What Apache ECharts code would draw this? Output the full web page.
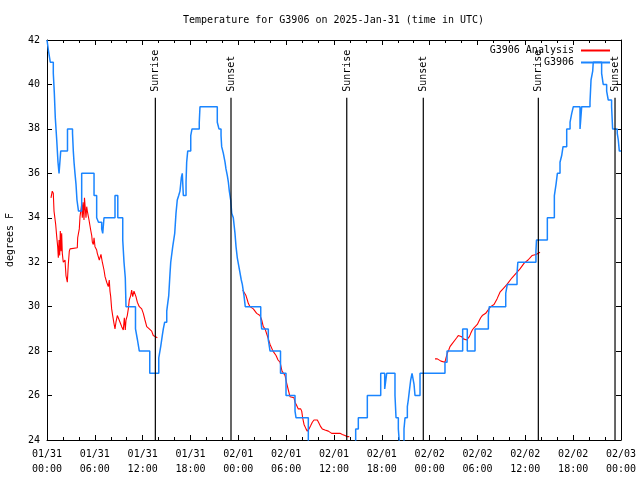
<!DOCTYPE html>
<html>
<head>
<meta charset="utf-8">
<script src="https://cdn.jsdelivr.net/npm/echarts@6/dist/echarts.min.js"></script>
<style>html,body{margin:0;padding:0;background:#fff}#c{width:640px;height:480px}</style>
</head>
<body>
<div id="c"></div>
<script>
// hours since 2025-01-31 00:00 UTC
const tickLabels = ['01/31\n00:00','01/31\n06:00','01/31\n12:00','01/31\n18:00','02/01\n00:00','02/01\n06:00','02/01\n12:00','02/01\n18:00','02/02\n00:00','02/02\n06:00','02/02\n12:00','02/02\n18:00','02/03\n00:00'];

// G3906 observations (stepped)
const obsHours = [0.00,0.19,0.41,0.79,0.92,1.04,1.22,1.38,1.51,1.72,2.57,3.20,3.30,3.39,3.51,3.64,3.76,3.95,4.35,5.90,6.23,6.46,6.86,6.99,7.15,8.53,8.88,9.50,9.66,9.82,9.91,11.10,11.35,11.58,12.89,14.02,14.26,14.46,14.59,14.76,15.02,15.09,15.27,15.43,15.52,15.77,16.02,16.18,16.34,16.52,16.68,16.85,16.97,17.10,17.44,17.52,17.65,18.03,18.19,19.10,19.19,21.36,21.57,21.83,21.91,22.12,22.33,22.45,22.62,22.75,22.87,23.04,23.17,23.37,23.58,23.71,23.87,24.12,24.37,24.50,24.71,24.87,26.81,26.93,27.76,27.98,29.29,29.98,31.11,31.24,32.78,38.72,39.05,40.18,41.86,42.36,42.61,43.65,43.78,44.07,44.28,44.78,44.91,45.20,45.32,45.45,45.62,45.79,46.04,46.16,46.79,49.92,50.18,52.14,52.72,53.69,55.36,55.48,57.54,57.74,58.96,59.06,61.33,61.40,62.76,63.64,63.85,64.02,64.35,64.56,64.73,65.19,65.61,65.82,66.02,66.86,67.07,68.11,68.24,68.45,68.52,69.57,69.77,70.20,70.40,70.82,70.95,71.53,71.66,71.79,72.00];
const obsTemps = [42,41.5,41,40.5,39.6,38.5,37.5,36.5,36,37,38,37.8,37,36.5,36,35.5,34.8,34.3,36,35,34,33.8,33.5,33.3,34,35,34,33,32,31.3,30,29,28.5,28,27,27.7,28.2,28.7,29,29.3,29.8,30,30.5,31.5,32,32.7,33.3,34.2,34.8,35,35.2,35.8,36,35,35.6,36.5,37,37.7,38,38.3,39,38.3,38,37.7,37.2,36.9,36.5,36.2,35.9,35.6,35.2,34.8,34.2,34,33.3,32.7,32.2,31.7,31.2,31,30.5,30,29.5,29,28.5,28,27,26,25.3,25,23.5,24.5,25,26,27,26.3,27,26,25,24.5,23.5,24.5,25,25.5,25.8,26.2,26.7,27,26.5,26,27,27.5,28,29,28,29,29.6,30,30.6,31,31.5,32,32.5,33,34,35,35.5,36,36.5,36.8,37.2,38,38.3,38.7,39,38,39,39.2,40.2,40.6,41,40.5,40,39.7,39.3,39,38,37.8,37.5,37,37];

// G3906 Analysis (null = no data)
const anaHours = [0.50,0.66,0.79,0.88,1.09,1.22,1.34,1.42,1.51,1.59,1.67,1.76,1.84,1.92,2.04,2.26,2.38,2.55,2.67,2.80,2.89,3.80,3.85,4.05,4.14,4.35,4.43,4.52,4.64,4.70,4.80,4.89,4.98,5.06,5.27,5.48,5.61,5.69,5.81,5.90,6.02,6.23,6.31,6.56,6.77,6.94,7.15,7.28,7.49,7.69,7.81,7.90,7.99,8.11,8.24,8.40,8.53,8.65,8.82,8.94,9.16,9.37,9.57,9.70,9.82,9.91,10.07,10.20,10.32,10.50,10.62,10.75,10.91,11.16,11.33,11.58,11.88,12.08,12.29,12.51,12.83,13.13,13.33,13.55,13.84,
  19.0,
  24.55,24.96,25.13,25.25,25.46,25.88,26.09,26.30,26.51,26.72,26.93,27.13,27.35,27.72,27.98,28.35,28.73,28.98,29.23,29.48,29.86,30.07,30.27,30.48,30.98,31.11,31.32,31.52,31.82,31.95,32.07,32.24,32.49,32.65,32.87,33.08,33.28,33.49,33.91,34.12,34.33,34.53,34.87,35.29,35.71,36.34,36.75,37.04,37.38,37.67,37.92,
  43.0,
  48.67,48.96,49.21,49.42,49.64,49.92,50.05,50.21,50.39,50.55,50.76,50.96,51.18,51.39,51.59,51.81,52.02,52.22,52.65,52.85,52.98,53.15,53.35,53.56,53.78,53.98,54.19,54.40,54.60,54.81,55.03,55.23,55.44,55.65,56.07,56.45,56.82,57.20,57.70,58.33,58.83,59.33,59.83,60.34,60.84,61.34,61.84];
const anaTemps = [34.9,35.2,35.1,34.3,33.7,33.15,32.7,32.2,33.0,32.3,33.4,32.5,33.3,32.4,32.0,32.1,31.4,31.1,31.9,32.5,32.6,32.65,33.1,33.5,34.05,34.6,34.0,34.7,33.9,34.9,34.95,34.0,34.5,34.3,33.9,33.45,33.2,32.9,32.8,33.1,32.7,32.55,32.4,32.1,32.35,32.0,31.65,31.35,31.1,30.9,31.2,30.7,30.45,29.9,29.6,29.25,29.0,29.3,29.6,29.5,29.3,29.1,28.95,29.5,28.95,29.4,29.6,29.9,30.3,30.5,30.75,30.45,30.7,30.45,30.2,30.0,29.9,29.7,29.4,29.1,29.0,28.9,28.7,28.65,28.6,
  null,
  30.75,30.5,30.3,30.15,30.0,29.9,29.85,29.7,29.65,29.6,29.4,29.1,29.0,28.6,28.3,28.0,27.8,27.6,27.5,27.1,26.9,26.55,26.25,25.95,25.9,25.7,25.55,25.4,25.4,25.3,25.0,24.7,24.5,24.4,24.5,24.65,24.8,24.9,24.9,24.75,24.6,24.5,24.45,24.4,24.3,24.3,24.3,24.25,24.2,24.15,24.15,
  null,
  27.65,27.65,27.6,27.55,27.5,27.5,27.7,27.9,28.05,28.2,28.3,28.35,28.5,28.6,28.7,28.7,28.65,28.55,28.5,28.5,28.65,28.8,28.95,29.05,29.1,29.2,29.35,29.5,29.6,29.6,29.7,29.8,29.9,30.0,30.1,30.35,30.65,30.8,31.0,31.3,31.5,31.7,31.95,32.1,32.3,32.35,32.45];

// Sunrise / sunset (hours UTC)
const sunTimes = [13.59, 23.08, 37.6, 47.2, 61.63, 71.25];
const sunLabels = ['Sunrise','Sunset','Sunrise','Sunset','Sunrise','Sunset'];

const FONT = '"DejaVu Sans Mono", monospace';
const chart = echarts.init(document.getElementById('c'), null, {renderer: 'canvas'});

const xCommon = {
  type: 'value', min: 0, max: 72, interval: 6,
  axisLine: {show: true, onZero: false, lineStyle: {color: '#000', width: 1}},
  axisTick: {show: true, inside: true, length: 5, lineStyle: {color: '#000'}},
  minorTick: {show: true, splitNumber: 3, length: 3, lineStyle: {color: '#000'}},
  splitLine: {show: false}
};
const yCommon = {
  type: 'value', min: 24, max: 42, interval: 2,
  axisLine: {show: true, onZero: false, lineStyle: {color: '#000', width: 1}},
  axisTick: {show: true, inside: true, length: 5, lineStyle: {color: '#000'}},
  splitLine: {show: false}
};

chart.setOption({
  animation: false,
  backgroundColor: '#fff',
  title: {
    text: 'Temperature for G3906 on 2025-Jan-31 (time in UTC)',
    left: 178, top: 10,
    textStyle: {fontFamily: FONT, fontSize: 10, fontWeight: 'normal', color: '#000'}
  },
  legend: [
    {data: [{name: 'G3906 Analysis'}], right: 30, top: 45.5, align: 'right', orient: 'vertical', padding: 0,
     itemWidth: 29, itemHeight: 2, icon: 'rect', selectedMode: false,
     textStyle: {fontFamily: FONT, fontSize: 10, color: '#000', padding: [0, 2, 0, 0]}},
    {data: [{name: 'G3906'}], right: 30, top: 57.5, align: 'right', orient: 'vertical', padding: 0,
     itemWidth: 29, itemHeight: 2, icon: 'rect', selectedMode: false,
     textStyle: {fontFamily: FONT, fontSize: 10, color: '#000', padding: [0, 2, 0, 0]}}
  ],
  grid: {left: 47, right: 19, top: 40, bottom: 40, containLabel: false, outerBoundsMode: 'none'},
  xAxis: [
    Object.assign({}, xCommon, {position: 'bottom',
      axisLabel: {show: true, margin: 7, fontFamily: FONT, fontSize: 10, color: '#000', lineHeight: 15,
        formatter: v => tickLabels[Math.round(v / 6)] || ''}}),
    Object.assign({}, xCommon, {position: 'top', axisLabel: {show: false}})
  ],
  yAxis: [
    Object.assign({}, yCommon, {position: 'left', name: 'degrees F', nameLocation: 'middle', nameGap: 32,
      nameTextStyle: {fontFamily: FONT, fontSize: 10, color: '#000'},
      axisLabel: {show: true, margin: 7, fontFamily: FONT, fontSize: 10, color: '#000'}}),
    Object.assign({}, yCommon, {position: 'right', axisLabel: {show: false}})
  ],
  series: [
    {
      name: 'G3906 Analysis', type: 'line', xAxisIndex: 0, yAxisIndex: 0,
      data: anaHours.map((h, i) => [h, anaTemps[i] === null ? '-' : anaTemps[i]]),
      showSymbol: false, symbol: 'none', connectNulls: false,
      lineStyle: {color: '#ff0000', width: 1.1}, itemStyle: {color: '#ff0000'}, z: 2
    },
    {
      name: 'G3906', type: 'line', xAxisIndex: 0, yAxisIndex: 0, step: 'end',
      data: obsHours.map((h, i) => [h, obsTemps[i]]),
      showSymbol: false, symbol: 'none',
      lineStyle: {color: '#1a85ff', width: 1.5}, itemStyle: {color: '#1a85ff'}, z: 3
    },
    {
      name: 'sun', type: 'custom', xAxisIndex: 0, yAxisIndex: 0, silent: true, z: 4,
      data: sunTimes.map(t => [t, 24]),
      renderItem: function (params, api) {
        const t = api.value(0);
        const b = api.coord([t, 24]);
        const tp = api.coord([t, 39.4]);
        const lb = api.coord([t, 39.67]);
        return {
          type: 'group',
          children: [
            {type: 'line', shape: {x1: b[0], y1: b[1], x2: tp[0], y2: tp[1]},
             style: {stroke: '#000', lineWidth: 1.2}},
            {type: 'text', x: lb[0] + 0.5, y: lb[1], rotation: Math.PI / 2,
             style: {text: sunLabels[params.dataIndex], font: '10px ' + FONT,
                     textAlign: 'left', textVerticalAlign: 'middle', fill: '#000'}}
          ]
        };
      }
    }
  ]
});
</script>
</body>
</html>
